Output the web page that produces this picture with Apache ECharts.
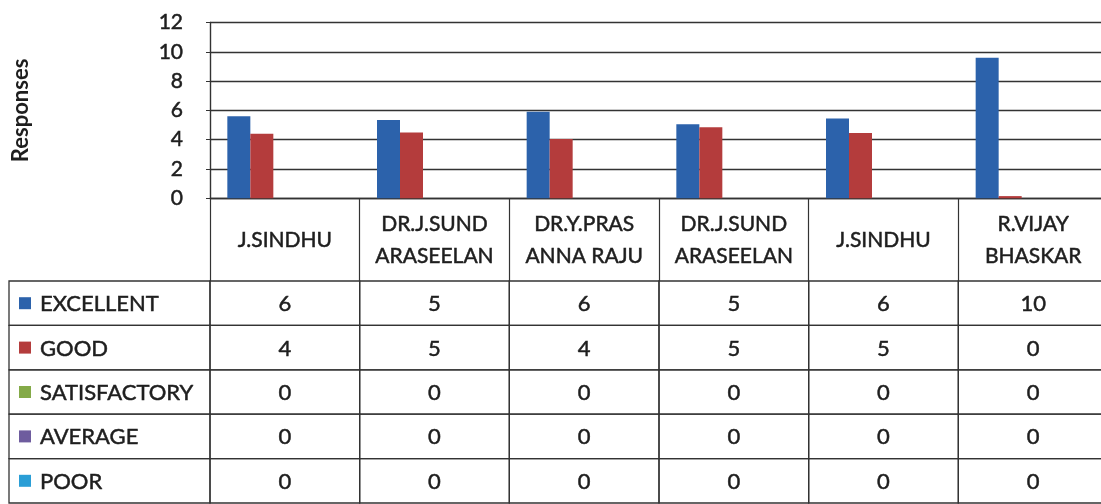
<!DOCTYPE html>
<html><head><meta charset="utf-8">
<script src="https://cdn.jsdelivr.net/npm/echarts@6/dist/echarts.min.js"></script>
<style>html,body{margin:0;padding:0;background:#fff}#c{width:1101px;height:504px}</style>
</head><body><div id="c"></div>
<script>
// ---- data ----
const categories = ['J.SINDHU', 'DR.J.SUND\nARASEELAN', 'DR.Y.PRAS\nANNA RAJU', 'DR.J.SUND\nARASEELAN', 'J.SINDHU', 'R.VIJAY\nBHASKAR'];
const seriesNames = ['EXCELLENT', 'GOOD', 'SATISFACTORY', 'AVERAGE', 'POOR'];
// bar heights as drawn in the picture
const barExcellent = [5.6, 5.35, 5.9, 5.05, 5.45, 9.6];
const barGood = [4.4, 4.5, 4.05, 4.85, 4.45, 0.15];
const barSatisfactory = [0, 0, 0, 0, 0, 0];
const barAverage = [0, 0, 0, 0, 0, 0];
const barPoor = [0, 0, 0, 0, 0, 0];
// values printed in the data table
const tableExcellent = [6, 5, 6, 5, 6, 10];
const tableGood = [4, 5, 4, 5, 5, 0];
const tableSatisfactory = [0, 0, 0, 0, 0, 0];
const tableAverage = [0, 0, 0, 0, 0, 0];
const tablePoor = [0, 0, 0, 0, 0, 0];
const yTicks = [0, 2, 4, 6, 8, 10, 12];

// ---- styles ----
const colors = ['#2C62AB', '#B43C3C', '#84AA48', '#6E5C9E', '#2A9ED6'];
const FONT = 'Lato, "Open Sans", sans-serif';
const TXT = '#1e1e1e';
const LINE = '#333333';
const TB = 0.5; // slight text thickening to match the scanned weight

const barSeries = [barExcellent, barGood, barSatisfactory, barAverage, barPoor];
const tableRows = [tableExcellent, tableGood, tableSatisfactory, tableAverage, tablePoor];

const cellData = [];
tableRows.forEach((row, r) => row.forEach((v, c) => cellData.push([c, r, v])));
const headerData = seriesNames.map((n, r) => [0, r, r]);

const chart = echarts.init(document.getElementById('c'), null, {renderer: 'canvas'});
const option = {
  animation: false,
  backgroundColor: '#fff',
  grid: [
    {left: 210, top: 22.5, width: 898, height: 175.8, containLabel: false, outerBoundsMode: 'none'},
    {left: 210, top: 281, width: 898, height: 222, containLabel: false, outerBoundsMode: 'none'}
  ],
  xAxis: [
    {
      type: 'category', gridIndex: 0, data: categories,
      axisLine: {show: true, lineStyle: {color: LINE, width: 1.4}},
      axisTick: {show: true, length: 83, interval: 0, lineStyle: {color: LINE, width: 1.2}},
      axisLabel: {interval: 0, margin: 42, verticalAlign: 'middle', lineHeight: 32,
        fontFamily: FONT, fontSize: 21, color: TXT, textBorderColor: TXT, textBorderWidth: TB},
      splitLine: {show: false}
    },
    {
      type: 'category', gridIndex: 1, data: categories,
      axisLine: {show: false}, axisTick: {show: false}, axisLabel: {show: false}, splitLine: {show: false}
    }
  ],
  yAxis: [
    {
      type: 'value', gridIndex: 0, min: yTicks[0], max: yTicks[yTicks.length - 1], interval: 2,
      name: 'Responses', nameLocation: 'middle', nameGap: 178, nameRotate: 90,
      nameTextStyle: {fontFamily: FONT, fontSize: 22, fontWeight: 'bold', color: TXT},
      axisLine: {show: true, lineStyle: {color: LINE, width: 1.4}},
      axisTick: {show: true, length: 4, lineStyle: {color: LINE}},
      axisLabel: {margin: 27, fontFamily: FONT, fontSize: 21, color: TXT, textBorderColor: TXT, textBorderWidth: TB},
      splitLine: {show: true, lineStyle: {color: LINE, width: 1.4}}
    },
    {
      type: 'category', gridIndex: 1, inverse: true, data: seriesNames,
      axisLine: {show: false}, axisTick: {show: false}, axisLabel: {show: false}, splitLine: {show: false}
    }
  ],
  series: [
    ...barSeries.map((d, i) => ({
      type: 'bar', name: seriesNames[i], xAxisIndex: 0, yAxisIndex: 0, data: d,
      barWidth: 23, barGap: '0%', itemStyle: {color: colors[i]}
    })),
    {
      type: 'custom', xAxisIndex: 1, yAxisIndex: 1, data: cellData,
      encode: {x: 0, y: 1},
      renderItem: function (params, api) {
        const p = api.coord([api.value(0), api.value(1)]);
        const s = api.size([1, 1]);
        return {type: 'group', children: [
          {type: 'rect', shape: {x: p[0] - s[0] / 2, y: p[1] - s[1] / 2, width: s[0], height: s[1]},
            style: {fill: 'none', stroke: LINE, lineWidth: 1.3}},
          {type: 'text', style: {text: String(api.value(2)), x: p[0], y: p[1] + 1,
            align: 'center', verticalAlign: 'middle', font: '22px ' + FONT, fill: TXT,
            stroke: TXT, lineWidth: TB}}
        ]};
      }
    },
    {
      type: 'custom', xAxisIndex: 1, yAxisIndex: 1, data: headerData,
      encode: {x: 0, y: 1},
      renderItem: function (params, api) {
        const r = api.value(2);
        const p = api.coord([0, api.value(1)]);
        const s = api.size([1, 1]);
        const right = params.coordSys.x;
        const left = 9;
        return {type: 'group', children: [
          {type: 'rect', shape: {x: left, y: p[1] - s[1] / 2, width: right - left, height: s[1]},
            style: {fill: 'none', stroke: LINE, lineWidth: 1.3}},
          {type: 'rect', shape: {x: 19, y: p[1] - 6, width: 12, height: 12},
            style: {fill: colors[r]}},
          {type: 'text', style: {text: seriesNames[r], x: 40, y: p[1] + 1,
            align: 'left', verticalAlign: 'middle', font: '22px ' + FONT, fill: TXT,
            stroke: TXT, lineWidth: TB}}
        ]};
      }
    }
  ]
};
chart.setOption(option);
</script>
</body></html>
